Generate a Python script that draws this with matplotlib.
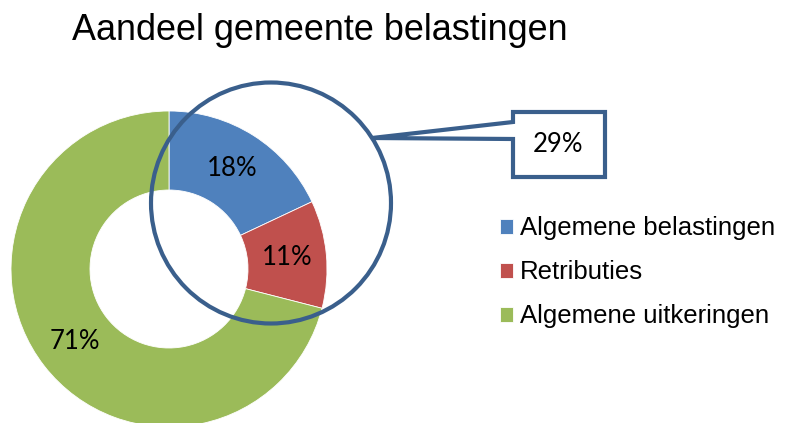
import matplotlib
matplotlib.use("Agg")
import matplotlib.pyplot as plt
from matplotlib.patches import Ellipse, Polygon

categories = ["Algemene belastingen", "Retributies", "Algemene uitkeringen"]
values = [18, 11, 71]
colors = ["#4F81BD", "#C0504D", "#9BBB59"]
title = "Aandeel gemeente belastingen"
callout_label = "29%"

W, H = 785, 423
fig = plt.figure(figsize=(W / 100, H / 100), dpi=100)
ax = fig.add_axes([0, 0, 1, 1])

cx, cy, R, r = 169, 269, 158, 79
wedges, texts, autotexts = ax.pie(
    values, colors=colors, startangle=-90, counterclock=True,
    center=(cx, cy), radius=R, frame=True,
    wedgeprops=dict(width=R - r, edgecolor="white", linewidth=0.6),
    autopct=lambda p: f"{p:.0f}%", pctdistance=0.75,
    textprops=dict(fontsize=18.5, family=["Lato", "DejaVu Sans"], color="black"),
)
ax.set_xlim(0, W)
ax.set_ylim(H, 0)
ax.set_aspect("auto")
ax.axis("off")

line_col = "#3A5F8C"
circ = Ellipse((271, 203), 240, 241, fill=False, edgecolor=line_col, linewidth=3.0, zorder=5)
ax.add_patch(circ)
poly = Polygon([(372, 138), (513, 122), (513, 112), (605, 112), (605, 177),
                (513, 177), (513, 139)], closed=True, facecolor="white",
               edgecolor=line_col, linewidth=3.0, joinstyle="miter", zorder=6)
ax.add_patch(poly)
ax.text(558.5, 145, callout_label, ha="center", va="center", fontsize=18.5,
        family=["Lato", "DejaVu Sans"], zorder=7)

ax.text(320, 31, title, ha="center", va="center", fontsize=25.9,
        family=["Liberation Sans", "DejaVu Sans"])

leg = ax.legend(wedges, categories, loc="upper left", bbox_to_anchor=(500, 216.5),
                bbox_transform=ax.transData, frameon=False,
                prop=dict(family=["Liberation Sans", "DejaVu Sans"], size=18.5),
                handlelength=0.51, handleheight=0.51, handletextpad=0.25,
                labelspacing=0.775, borderpad=0, borderaxespad=0)

fig.savefig("out.png", dpi=100)
